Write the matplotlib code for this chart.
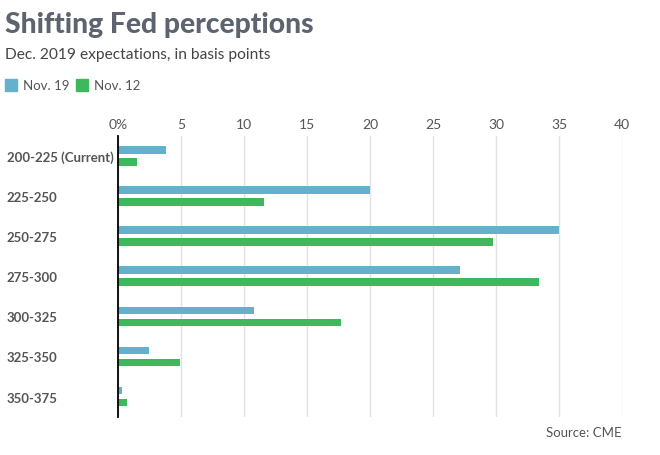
import matplotlib
matplotlib.use("Agg")
import matplotlib.pyplot as plt
import numpy as np

categories = ["200-225 (Current)", "225-250", "250-275", "275-300", "300-325", "325-350", "350-375"]
nov19 = [3.8, 20.0, 35.0, 27.1, 10.8, 2.4, 0.3]
nov12 = [1.5, 11.6, 29.7, 33.4, 17.7, 4.9, 0.7]
xticks = [0, 5, 10, 15, 20, 25, 30, 35, 40]
xticklabels = ["0%", "5", "10", "15", "20", "25", "30", "35", "40"]

BLUE = "#62b2ce"
GREEN = "#3db85c"
TXT = "#555555"
plt.rcParams['font.family'] = ['Lato', 'DejaVu Sans']

fig = plt.figure(figsize=(6.6, 4.56), dpi=100)
ax = fig.add_axes([118.3/660, 1-417.7/456, 504/660, (417.7-136.7)/456])

y = np.arange(len(categories))
h = 0.19
ax.barh(y - 0.15, nov19, height=h, color=BLUE, zorder=3)
ax.barh(y + 0.15, nov12, height=h, color=GREEN, zorder=3)

ax.set_xlim(0, 40)
ax.set_ylim(6.5, -0.5)
ax.set_xticks(xticks)
ax.set_xticklabels(xticklabels, fontsize=10, color=TXT)
ax.xaxis.tick_top()
ax.tick_params(axis='x', length=0, pad=4)
ax.set_yticks(y)
ax.set_yticklabels(categories, fontsize=9.5, color=TXT, fontweight='bold', ha='left')
ax.tick_params(axis='y', length=0, pad=80.2)
ax.grid(axis='x', color='#e2e2e2', linewidth=1, zorder=0)
for s in ['top', 'right', 'bottom']:
    ax.spines[s].set_visible(False)
ax.spines['left'].set_color('black')
ax.spines['left'].set_linewidth(1.3)
ax.spines['left'].set_zorder(4)

fig.text(5/660, 1-33/456, "Shifting Fed perceptions", fontsize=20.3, fontweight='black',
         color='#5d6470', ha='left', va='baseline')
fig.text(5/660, 1-58.5/456, "Dec. 2019 expectations, in basis points", fontsize=11.2,
         color='#444444', ha='left', va='baseline')

# legend
from matplotlib.patches import Rectangle
fig.patches.append(Rectangle((5/660, 1-91.7/456), 11.7/660, 11.7/456, transform=fig.transFigure,
                             color=BLUE))
fig.text(23/660, 1-86/456, "Nov. 19", fontsize=9.5, color=TXT, ha='left', va='center')
fig.patches.append(Rectangle((76/660, 1-91.7/456), 11.7/660, 11.7/456, transform=fig.transFigure,
                             color=GREEN))
fig.text(94/660, 1-86/456, "Nov. 12", fontsize=9.5, color=TXT, ha='left', va='center')

fig.text(622/660, 1-433/456, "Source: CME", fontsize=9.5, color=TXT, ha='right', va='center')

fig.savefig("out.png", dpi=100)
